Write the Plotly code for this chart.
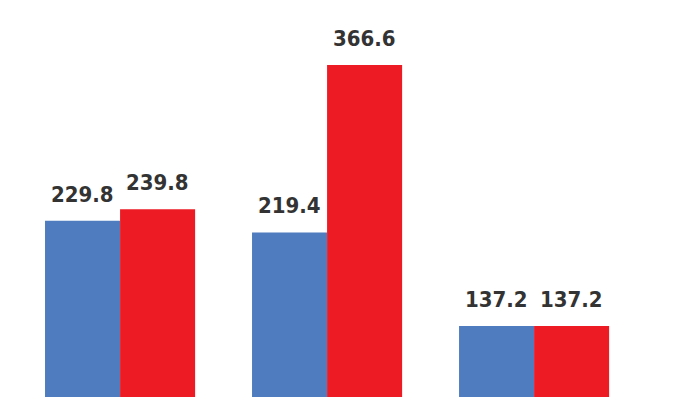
import plotly.graph_objects as go

categories = ["A", "B", "C"]
series1 = [229.8, 219.4, 137.2]
series2 = [239.8, 366.6, 137.2]

blue = "#4F7BBF"
red = "#ED1C24"

fig = go.Figure()
fig.add_bar(x=[0, 1, 2], y=series1, marker=dict(color=blue, line=dict(width=0)), name="s1")
fig.add_bar(x=[0, 1, 2], y=series2, marker=dict(color=red, line=dict(width=0)), name="s2")

offsets = [-0.1812, 0.1812]
for off, vals in zip(offsets, [series1, series2]):
    for i, v in enumerate(vals):
        fig.add_annotation(x=i + off, y=v, text=f"<b>{v:.1f}</b>", showarrow=False,
                           yanchor="bottom", yshift=12,
                           font=dict(family="DejaVu Sans Condensed, Roboto", size=22, color="#333333"))

fig.update_layout(
    width=697, height=397,
    margin=dict(l=0, r=0, t=0, b=0),
    paper_bgcolor="white", plot_bgcolor="white",
    barmode="group", bargap=0.275, bargroupgap=0,
    showlegend=False,
    xaxis=dict(range=[-0.58, 2.787], visible=False, fixedrange=True),
    yaxis=dict(range=[74.8, 423.7], visible=False, fixedrange=True),
)
fig.write_html("out.html")
